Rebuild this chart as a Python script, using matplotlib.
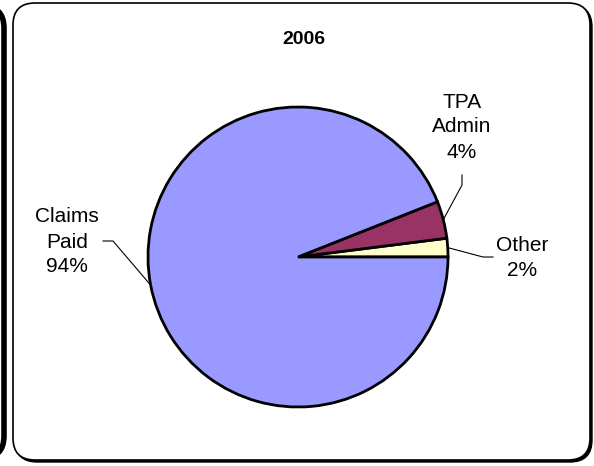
import numpy as np
import matplotlib.pyplot as plt
from matplotlib.patches import FancyBboxPatch

plt.rcParams['font.family'] = ['Liberation Sans', 'DejaVu Sans']

# data
labels = ['Other', 'TPA\nAdmin', 'Claims\nPaid']
values = [2, 4, 94]
pcts = ['2%', '4%', '94%']
colors = ['#FFFFCC', '#993366', '#9999FF']
title = '2006'

W, H = 594, 466
fig = plt.figure(figsize=(W / 100, H / 100), dpi=100)
ax = fig.add_axes([0, 0, 1, 1])
ax.set_xlim(0, W)
ax.set_ylim(0, H)
ax.axis('off')

# neighbouring chart box edge (cut off on the left)
ax.add_patch(FancyBboxPatch((-300, 8), 304, 452, boxstyle='round,pad=0,rounding_size=22',
                            fc='white', ec='black', lw=4))

# main chart box with shadow
ax.add_patch(FancyBboxPatch((15, 4), 577, 457, boxstyle='round,pad=0,rounding_size=22',
                            fc='black', ec='black', lw=1))
ax.add_patch(FancyBboxPatch((13, 6), 577, 457, boxstyle='round,pad=0,rounding_size=22',
                            fc='white', ec='black', lw=1.2))

cx, cy, r = 298, 209, 150
wedges, _ = ax.pie(values, colors=colors, startangle=0, counterclock=True,
                   center=(cx, cy), radius=r, frame=True,
                   wedgeprops=dict(edgecolor='black', linewidth=2))
ax.set_xlim(0, W)
ax.set_ylim(0, H)
ax.set_aspect('equal')
ax.axis('off')

ax.text(304, H - 39, title, ha='center', va='center', fontsize=14, fontweight='bold')

# label positions and leader elbows
label_pos = [(522, H - 258), (462, H - 127), (67, H - 242)]
elbows = [(483, H - 257), (462, H - 185), (113, H - 241)]
starts = [(493, H - 257), (462, H - 175), (103, H - 241)]

for w, lab, p, lp, el, st in zip(wedges, labels, pcts, label_pos, elbows, starts):
    ang = np.deg2rad((w.theta1 + w.theta2) / 2)
    ex, ey = cx + r * np.cos(ang), cy + r * np.sin(ang)
    ax.plot([st[0], el[0], ex], [st[1], el[1], ey], color='black', lw=0.8)
    ax.text(lp[0], lp[1], lab + '\n' + p, ha='center', va='center', fontsize=15,
            linespacing=1.4)

fig.savefig('out.png', dpi=100)
